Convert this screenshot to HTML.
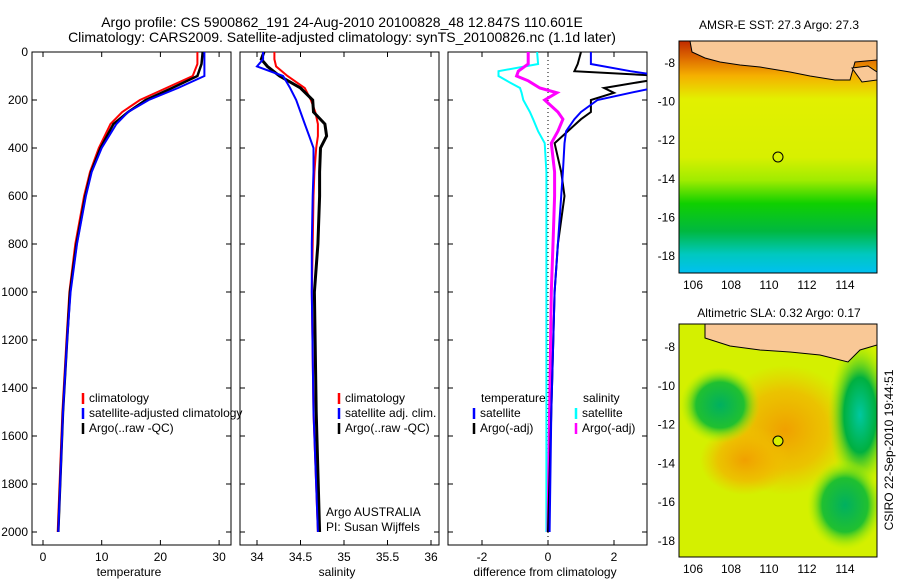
<!DOCTYPE html>
<html><head><meta charset="utf-8"><style>
body{margin:0;background:#fff;}
svg{display:block;font-family:"Liberation Sans",sans-serif;}
</style></head><body>
<svg id="s" width="900" height="580" viewBox="0 0 900 580">
<defs>
<linearGradient id="sst" x1="0" y1="0" x2="0" y2="1">
<stop offset="0" stop-color="#c02a00"/><stop offset="0.08" stop-color="#e07000"/><stop offset="0.15" stop-color="#f5b000"/>
<stop offset="0.25" stop-color="#e2f000"/><stop offset="0.5" stop-color="#d8f000"/><stop offset="0.6" stop-color="#a0ec00"/>
<stop offset="0.7" stop-color="#10d000"/><stop offset="0.82" stop-color="#00b840"/><stop offset="0.92" stop-color="#00c8c0"/><stop offset="1" stop-color="#00c0f0"/>
</linearGradient>
<radialGradient id="g1"><stop offset="0" stop-color="#00b060"/><stop offset="0.6" stop-color="#20c030"/><stop offset="1" stop-color="#b0f000" stop-opacity="0"/></radialGradient>
<radialGradient id="g2"><stop offset="0" stop-color="#00c8a0"/><stop offset="0.5" stop-color="#00b040"/><stop offset="1" stop-color="#a0f000" stop-opacity="0"/></radialGradient>
<radialGradient id="o1"><stop offset="0" stop-color="#f0a000"/><stop offset="0.6" stop-color="#f0b800" stop-opacity="0.8"/><stop offset="1" stop-color="#f0c000" stop-opacity="0"/></radialGradient>
<clipPath id="c1"><rect x="32" y="52" width="199" height="493"/></clipPath>
<clipPath id="c2"><rect x="240" y="52" width="199" height="493"/></clipPath>
<clipPath id="c3"><rect x="448" y="52" width="199" height="493"/></clipPath>
<clipPath id="m1"><rect x="679" y="41" width="198" height="232"/></clipPath>
<clipPath id="m2"><rect x="679" y="324" width="198" height="233"/></clipPath>
</defs>
<text x="342" y="27" font-size="14" text-anchor="middle">Argo profile: CS 5900862_191 24-Aug-2010 20100828_48 12.847S 110.601E</text>
<text x="342" y="42" font-size="14" text-anchor="middle">Climatology: CARS2009. Satellite-adjusted climatology: synTS_20100826.nc (1.1d later)</text>
<g id="plots"></g>
<g>
<rect x="679" y="41" width="198" height="232" fill="url(#sst)"/>
<g clip-path="url(#m1)">
<path d="M690,41 L692,52 L705,58 L720,62 L740,65 L760,67 L790,72 L810,76 L835,80 L850,80 L855,62 L877,60 L877,41 Z" fill="#f9c896" stroke="#000" stroke-width="1"/>
<path d="M852,68 L868,66 L877,72 L877,80 L862,82 Z" fill="#f9c896" stroke="#000"/>
</g>
<rect x="679" y="41" width="198" height="232" fill="none" stroke="#000"/>
<circle cx="778" cy="157" r="5" fill="none" stroke="#000"/>
<text x="779" y="29" font-size="12" text-anchor="middle">AMSR-E SST: 27.3 Argo: 27.3</text>
</g>
<g>
<rect x="679" y="324" width="198" height="233" fill="#d4f000"/>
<g clip-path="url(#m2)">
<ellipse cx="785" cy="430" rx="70" ry="65" fill="url(#o1)"/>
<ellipse cx="745" cy="460" rx="45" ry="35" fill="url(#o1)"/>
<ellipse cx="720" cy="405" rx="40" ry="38" fill="url(#g1)"/>
<ellipse cx="860" cy="415" rx="32" ry="75" fill="url(#g2)"/>
<ellipse cx="845" cy="505" rx="38" ry="45" fill="url(#g1)"/>
<path d="M705,324 L705,338 L730,346 L760,350 L790,352 L820,355 L848,362 L860,350 L877,345 L877,324 Z" fill="#f9c896" stroke="#000"/>
</g>
<rect x="679" y="324" width="198" height="233" fill="none" stroke="#000"/>
<circle cx="778" cy="441" r="5" fill="#d8f000" stroke="#000"/>
<text x="779" y="317" font-size="12" text-anchor="middle">Altimetric SLA: 0.32 Argo: 0.17</text>
</g>
<text transform="translate(893,450) rotate(-90)" font-size="12" text-anchor="middle">CSIRO 22-Sep-2010 19:44:51</text>
</svg>
<script>
const depthT=[0,50,100,150,200,250,300,400,500,600,800,1000,1200,1500,2000];
const tempClim=[26.3,26.3,25.5,21,16.5,13.5,11.5,9.5,8,7,5.5,4.5,4,3.3,2.5];
const tempSat=[27.5,27.5,27.5,23,18,14.5,12.5,10,8.3,7.3,5.8,4.7,4.1,3.4,2.6];
const tempArgo=[27.2,27,26.3,22,17.5,14.5,12,9.8,8.2,7.2,5.7,4.6,4.1,3.4,2.6];
const depthS=[0,30,60,100,150,200,250,300,350,400,500,600,800,1000,1500,2000];
const salClim=[34.2,34.2,34.22,34.35,34.55,34.62,34.67,34.7,34.7,34.68,34.66,34.65,34.64,34.63,34.65,34.7];
const salSat=[34.07,34.07,34.0,34.3,34.38,34.45,34.5,34.55,34.6,34.65,34.65,34.64,34.63,34.63,34.65,34.7];
const salArgo=[34.08,34.05,34.12,34.26,34.5,34.64,34.65,34.78,34.8,34.73,34.72,34.72,34.7,34.66,34.68,34.72];
const depthD=[0,50,80,100,120,150,170,200,250,280,330,380,500,600,800,1000,1500,2000];
const dTSat=[1.3,1.3,2.5,3.5,3.5,3.2,2.5,1.5,1.0,0.8,0.55,0.5,0.45,0.4,0.3,0.2,0.1,0.05];
const dTArgo=[1.0,0.9,0.8,3.5,3.0,1.7,2.0,1.3,1.3,1.0,0.6,0.2,0.4,0.5,0.3,0.2,0.1,0.0];
const dSSat=[-0.33,-0.3,-1.5,-1.5,-1.25,-0.85,-0.8,-0.75,-0.55,-0.45,-0.3,-0.1,-0.05,-0.05,-0.05,-0.05,-0.05,-0.05];
const dSArgo=[-0.6,-0.6,-0.9,-0.95,-0.6,-0.25,0.27,-0.1,0.3,0.45,0.3,0.1,0.2,0.2,0.15,0.1,0.05,0.0];
const yTicks=[0,200,400,600,800,1000,1200,1400,1600,1800,2000];
const tTicks=[0,10,20,30];
const sTicks=[34,34.5,35,35.5,36];
const dTicks=[-2,0,2];
const lonTicks=[106,108,110,112,114];
const latTicks=[-8,-10,-12,-14,-16,-18];

const NS='http://www.w3.org/2000/svg';
const root=document.getElementById('plots');
function mk(tag,attrs,parent){const e=document.createElementNS(NS,tag);for(const k in attrs)e.setAttribute(k,attrs[k]);(parent||root).appendChild(e);return e;}
const Y0=52,Y1=545;
const yD=d=>52+d*0.24;
function panel(x0,xs,ticks,label,clip,name,showY){
  const g=mk('g',{});
  
  
  mk('rect',{x:x0,y:Y0,width:199,height:Y1-Y0,fill:'none',stroke:'#000'},g);
  ticks.forEach(t=>{const x=xs(t);
    mk('line',{x1:x,x2:x,y1:Y0,y2:Y0+5,stroke:'#000'},g);mk('line',{x1:x,x2:x,y1:Y1-5,y2:Y1,stroke:'#000'},g);
    const tx=mk('text',{x:x,y:561,'font-size':12,'text-anchor':'middle'},g);tx.textContent=t;});
  yTicks.forEach(d=>{const y=yD(d);
    mk('line',{x1:x0,x2:x0+5,y1:y,y2:y,stroke:'#000'},g);mk('line',{x1:x0+194,x2:x0+199,y1:y,y2:y,stroke:'#000'},g);
    if(showY){const tx=mk('text',{x:x0-4,y:y+4,'font-size':12,'text-anchor':'end'},g);tx.textContent=d;}});
  const lb=mk('text',{x:x0+97,y:576,'font-size':12,'text-anchor':'middle'},g);
  lb.textContent=label;
  return mk('g',{'clip-path':'url(#'+clip+')'},g);
}
function line(g,xs,depths,vals,color,w,name){
  const p=depths.map((d,i)=>(i?'L':'M')+xs(vals[i]).toFixed(1)+','+yD(d).toFixed(1)).join(' ');
  const e=mk('path',{d:p,fill:'none',stroke:color,'stroke-width':w},g);
  
  
}
function legend(x,y,items){
  items.forEach((it,i)=>{const yy=y+i*15;
    mk('line',{x1:x,x2:x,y1:yy-9,y2:yy+2,stroke:it[1],'stroke-width':2.5});
    const t=mk('text',{x:x+6,y:yy,'font-size':12});t.textContent=it[0];
    });
}
const xT=t=>43+t*5.87, xS=s=>257+(s-34)*87, xDf=v=>548+v*33;
let g=panel(32,xT,tTicks,'temperature','c1','temperature-panel',true);
line(g,xT,depthT,tempClim,'#f00',2,'temp-climatology');
line(g,xT,depthT,tempArgo,'#000',2.5,'temp-argo');
line(g,xT,depthT,tempSat,'#00f',2,'temp-satellite');
g=panel(240,xS,sTicks,'salinity','c2','salinity-panel',false);
line(g,xS,depthS,salClim,'#f00',2,'sal-climatology');
line(g,xS,depthS,salArgo,'#000',3,'sal-argo');
line(g,xS,depthS,salSat,'#00f',2,'sal-satellite');
g=panel(448,xDf,dTicks,'difference from climatology','c3','difference-panel',false);
mk('line',{x1:548,x2:548,y1:Y0,y2:Y1,stroke:'#000','stroke-dasharray':'1,3'},g);
line(g,xDf,depthD,dSSat,'#0ff',2,'sal-diff-satellite');
line(g,xDf,depthD,dSArgo,'#f0f',3,'sal-diff-argo');
line(g,xDf,depthD,dTArgo,'#000',2,'temp-diff-argo');
line(g,xDf,depthD,dTSat,'#00f',2,'temp-diff-satellite');
legend(83,402,[['climatology','#f00'],['satellite-adjusted climatology','#00f'],['Argo(..raw -QC)','#000']]);
legend(339,402,[['climatology','#f00'],['satellite adj. clim.','#00f'],['Argo(..raw -QC)','#000']]);
let t=mk('text',{x:481,y:402,'font-size':12});t.textContent='temperature';
t=mk('text',{x:583,y:402,'font-size':12});t.textContent='salinity';
legend(474,417,[['satellite','#00f'],['Argo(-adj)','#000']]);
legend(576,417,[['satellite','#0ff'],['Argo(-adj)','#f0f']]);
t=mk('text',{x:326,y:516,'font-size':12});t.textContent='Argo AUSTRALIA';
t=mk('text',{x:326,y:531,'font-size':12});t.textContent='PI: Susan Wijffels';
[[41,273,63,19.3],[324,557,347,19.4]].forEach(m=>{
  lonTicks.forEach(l=>{const x=693+(l-106)*19;
    mk('line',{x1:x,x2:x,y1:m[0],y2:m[0]+4,stroke:'#000'});mk('line',{x1:x,x2:x,y1:m[1]-4,y2:m[1],stroke:'#000'});
    const tx=mk('text',{x:x,y:m[1]+16,'font-size':12,'text-anchor':'middle'});tx.textContent=l;});
  latTicks.forEach(l=>{const y=m[2]+(-8-l)*m[3];
    mk('line',{x1:679,x2:683,y1:y,y2:y,stroke:'#000'});mk('line',{x1:873,x2:877,y1:y,y2:y,stroke:'#000'});
    const tx=mk('text',{x:675,y:y+4,'font-size':12,'text-anchor':'end'});tx.textContent=l;});
});
</script>
</body></html>
